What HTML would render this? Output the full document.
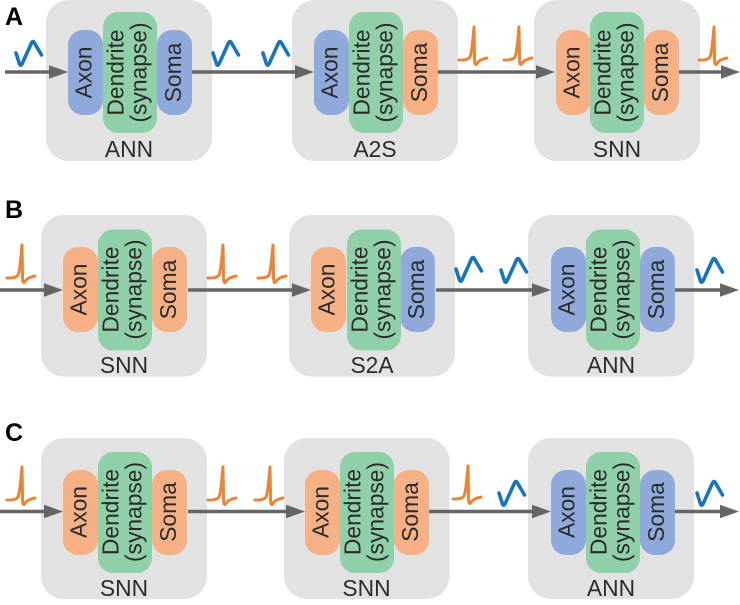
<!DOCTYPE html>
<html>
<head>
<meta charset="utf-8">
<style>
html,body{margin:0;padding:0;background:#fff;width:740px;height:605px;overflow:hidden}
svg{display:block}
text{font-family:"Liberation Sans",Arial,sans-serif;font-size:22.8px;fill:#2b2b2b;text-anchor:middle}
.h{font-size:25px;font-weight:bold;fill:#000;text-anchor:start}
.g{fill:#e2e2e2}.b{fill:#8fa9da}.o{fill:#f5b086}.d{fill:#8fd0a8}
.l{stroke:#656568;stroke-width:3.6;fill:none}
.a{fill:#656568}
.w{stroke:#1874bb;stroke-width:3.6;fill:none;stroke-linecap:round;stroke-linejoin:round}
.s{stroke:#ec8438;stroke-width:3;fill:none;stroke-linecap:round;stroke-linejoin:round}
</style>
</head>
<body>
<svg width="740" height="605" viewBox="0 0 740 605" xmlns="http://www.w3.org/2000/svg">
<defs>
<path id="wv" d="M0 0L3.5 11Q4.5 13.5 6 11L15.5 -10Q17 -13 18.5 -10L25.5 2"/>
<path id="sp" d="M0 0C5 0 9 0 11 -3C13 -7 14 -22 15 -33L15.6 1Q16 6.5 18 3.5C20 0 24 -1 28 -2"/>
</defs>

<text class="h" x="5" y="25">A</text>
<text class="h" x="5" y="218">B</text>
<text class="h" x="5" y="441">C</text>

<!-- Row A -->
<g transform="translate(46,0)">
<rect class="g" width="166" height="161" rx="23"/>
<rect class="b" x="22" y="30" width="35" height="85" rx="15"/>
<rect class="b" x="111" y="30" width="35" height="85" rx="15"/>
<rect class="d" x="57" y="12" width="54" height="121" rx="15"/>
<text transform="translate(45.5,72.5) rotate(-90)">Axon</text>
<text transform="translate(77.5,72.5) rotate(-90)">Dendrite</text>
<text transform="translate(100.5,72.5) rotate(-90)">(synapse)</text>
<text transform="translate(135,72.5) rotate(-90)">Soma</text>
<text x="83" y="157">ANN</text>
</g>
<g transform="translate(292,0)">
<rect class="g" width="166" height="161" rx="23"/>
<rect class="b" x="22" y="30" width="35" height="85" rx="15"/>
<rect class="o" x="111" y="30" width="35" height="85" rx="15"/>
<rect class="d" x="57" y="12" width="54" height="121" rx="15"/>
<text transform="translate(45.5,72.5) rotate(-90)">Axon</text>
<text transform="translate(77.5,72.5) rotate(-90)">Dendrite</text>
<text transform="translate(100.5,72.5) rotate(-90)">(synapse)</text>
<text transform="translate(135,72.5) rotate(-90)">Soma</text>
<text x="83" y="157">A2S</text>
</g>
<g transform="translate(534,0)">
<rect class="g" width="166" height="161" rx="23"/>
<rect class="o" x="22" y="30" width="35" height="85" rx="15"/>
<rect class="o" x="110" y="30" width="35" height="85" rx="15"/>
<rect class="d" x="56" y="12" width="54" height="121" rx="15"/>
<text transform="translate(45.5,72.5) rotate(-90)">Axon</text>
<text transform="translate(76.5,72.5) rotate(-90)">Dendrite</text>
<text transform="translate(99.5,72.5) rotate(-90)">(synapse)</text>
<text transform="translate(134,72.5) rotate(-90)">Soma</text>
<text x="83" y="157">SNN</text>
</g>

<!-- Row B -->
<g transform="translate(41,215)">
<rect class="g" width="166" height="161.5" rx="23"/>
<rect class="o" x="22" y="32" width="35" height="85" rx="15"/>
<rect class="o" x="111" y="32" width="35" height="85" rx="15"/>
<rect class="d" x="57" y="14.5" width="54" height="121" rx="15"/>
<text transform="translate(45.5,74.5) rotate(-90)">Axon</text>
<text transform="translate(77.5,74.5) rotate(-90)">Dendrite</text>
<text transform="translate(100.5,74.5) rotate(-90)">(synapse)</text>
<text transform="translate(135,74.5) rotate(-90)">Soma</text>
<text x="83" y="158">SNN</text>
</g>
<g transform="translate(289,215)">
<rect class="g" width="166" height="161.5" rx="23"/>
<rect class="o" x="22" y="32" width="35" height="85" rx="15"/>
<rect class="b" x="111" y="32" width="35" height="85" rx="15"/>
<rect class="d" x="58" y="14.5" width="54" height="121" rx="15"/>
<text transform="translate(45.5,74.5) rotate(-90)">Axon</text>
<text transform="translate(78.5,74.5) rotate(-90)">Dendrite</text>
<text transform="translate(101.5,74.5) rotate(-90)">(synapse)</text>
<text transform="translate(135,74.5) rotate(-90)">Soma</text>
<text x="83" y="158">S2A</text>
</g>
<g transform="translate(528,215)">
<rect class="g" width="166" height="161.5" rx="23"/>
<rect class="b" x="23" y="32" width="35" height="85" rx="15"/>
<rect class="b" x="112" y="32" width="35" height="85" rx="15"/>
<rect class="d" x="58" y="14.5" width="54" height="121" rx="15"/>
<text transform="translate(46.5,74.5) rotate(-90)">Axon</text>
<text transform="translate(78.5,74.5) rotate(-90)">Dendrite</text>
<text transform="translate(101.5,74.5) rotate(-90)">(synapse)</text>
<text transform="translate(136,74.5) rotate(-90)">Soma</text>
<text x="83" y="158">ANN</text>
</g>

<!-- Row C -->
<g transform="translate(41,438)">
<rect class="g" width="166" height="161" rx="23"/>
<rect class="o" x="22" y="32" width="35" height="85" rx="15"/>
<rect class="o" x="111" y="32" width="35" height="85" rx="15"/>
<rect class="d" x="57" y="14" width="54" height="121" rx="15"/>
<text transform="translate(45.5,74) rotate(-90)">Axon</text>
<text transform="translate(77.5,74) rotate(-90)">Dendrite</text>
<text transform="translate(100.5,74) rotate(-90)">(synapse)</text>
<text transform="translate(135,74) rotate(-90)">Soma</text>
<text x="83" y="158">SNN</text>
</g>
<g transform="translate(284,438)">
<rect class="g" width="165.5" height="161" rx="23"/>
<rect class="o" x="21" y="32" width="35" height="85" rx="15"/>
<rect class="o" x="110" y="32" width="35" height="85" rx="15"/>
<rect class="d" x="56" y="14" width="54" height="121" rx="15"/>
<text transform="translate(44.5,74) rotate(-90)">Axon</text>
<text transform="translate(76.5,74) rotate(-90)">Dendrite</text>
<text transform="translate(99.5,74) rotate(-90)">(synapse)</text>
<text transform="translate(134,74) rotate(-90)">Soma</text>
<text x="82.5" y="158">SNN</text>
</g>
<g transform="translate(528,438)">
<rect class="g" width="166" height="161" rx="23"/>
<rect class="b" x="23" y="32" width="35" height="85" rx="15"/>
<rect class="b" x="112" y="32" width="35" height="85" rx="15"/>
<rect class="d" x="58" y="14" width="54" height="121" rx="15"/>
<text transform="translate(46.5,74) rotate(-90)">Axon</text>
<text transform="translate(78.5,74) rotate(-90)">Dendrite</text>
<text transform="translate(101.5,74) rotate(-90)">(synapse)</text>
<text transform="translate(136,74) rotate(-90)">Soma</text>
<text x="83" y="158">ANN</text>
</g>

<!-- Arrows row A -->
<path class="l" d="M5 72H52M192 72H298M438 72H540M679 72H724"/>
<path class="a" d="M49 65.3L68 72L49 78.7ZM295 65.3L314 72L295 78.7ZM536 65.3L555 72L536 78.7ZM721 65.3L740 72L721 78.7Z"/>
<!-- Arrows row B -->
<path class="l" d="M0 290H48M188 290H296M436 290H536M675 290H724"/>
<path class="a" d="M44 283.3L63 290L44 296.7ZM292 283.3L311 290L292 296.7ZM532 283.3L551 290L532 296.7ZM720 283.3L739 290L720 296.7Z"/>
<!-- Arrows row C -->
<path class="l" d="M0 511.5H48M188 511.5H290M429 511.5H536M675 511.5H724"/>
<path class="a" d="M44 504.8L63 511.5L44 518.2ZM286 504.8L305 511.5L286 518.2ZM532 504.8L551 511.5L532 518.2ZM720 504.8L739 511.5L720 518.2Z"/>

<!-- Waves -->
<use href="#wv" class="w" x="16" y="53"/>
<use href="#wv" class="w" x="213" y="53"/>
<use href="#wv" class="w" x="263" y="53"/>
<use href="#wv" class="w" x="456" y="269"/>
<use href="#wv" class="w" x="501" y="270"/>
<use href="#wv" class="w" x="697" y="270"/>
<use href="#wv" class="w" x="499" y="493"/>
<use href="#wv" class="w" x="697" y="493"/>

<!-- Spikes -->
<use href="#sp" class="s" x="459" y="60"/>
<use href="#sp" class="s" x="504" y="60"/>
<use href="#sp" class="s" x="699" y="60"/>
<use href="#sp" class="s" x="7" y="278"/>
<use href="#sp" class="s" x="208" y="278"/>
<use href="#sp" class="s" x="258" y="278"/>
<use href="#sp" class="s" x="7" y="500"/>
<use href="#sp" class="s" x="208" y="500"/>
<use href="#sp" class="s" x="255" y="500"/>
<use href="#sp" class="s" x="453" y="499"/>
</svg>
</body>
</html>
